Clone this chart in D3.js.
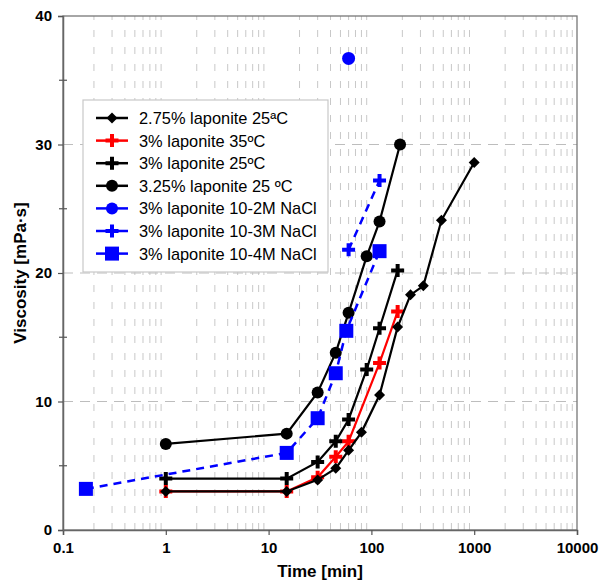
<!DOCTYPE html>
<meta charset="utf-8">
<html>
<head>
<script src="https://d3js.org/d3.v7.min.js"></script>
<style>
  body { margin: 0; background: #fff; }
  text { font-family: "Liberation Sans", Arial, sans-serif; }
</style>
</head>
<body>
<div id="chart"></div>
<script>
// data (time in minutes, viscosity in mPa·s)
var t275 = [1, 15, 30, 45, 60, 80, 120, 180, 240, 320, 480, 1000];
var v275 = [3.0, 3.0, 3.9, 4.8, 6.2, 7.6, 10.5, 15.8, 18.3, 19.0, 24.1, 28.6];

var t3_35 = [1, 15, 30, 45, 60, 120, 180];
var v3_35 = [3.0, 3.0, 4.1, 5.7, 6.9, 13.0, 17.0];

var t3_25 = [1, 15, 30, 45, 60, 90, 120, 180];
var v3_25 = [4.0, 4.0, 5.3, 6.9, 8.6, 12.5, 15.7, 20.2];

var t325 = [1, 15, 30, 45, 60, 90, 120, 190];
var v325 = [6.7, 7.5, 10.7, 13.8, 16.9, 21.3, 24.0, 30.0];

var tNa2 = [60];
var vNa2 = [36.7];

var tNa3 = [60, 120];
var vNa3 = [21.8, 27.2];

var tNa4 = [0.167, 15, 30, 45, 57, 120];
var vNa4 = [3.2, 6.0, 8.7, 12.2, 15.5, 21.7];

var xTicks = [0.1, 1, 10, 100, 1000, 10000];
var yTicks = [0, 10, 20, 30, 40];

var series = [
  {name: "3% laponite 35ºC", t: t3_35, v: v3_35, color: "#ff0000", sym: "plus", dash: null},
  {name: "3% laponite 25ºC", t: t3_25, v: v3_25, color: "#000000", sym: "plus", dash: null},
  {name: "2.75% laponite 25ªC", t: t275, v: v275, color: "#000000", sym: "diamond", dash: null},
  {name: "3.25% laponite 25 ºC", t: t325, v: v325, color: "#000000", sym: "circle", dash: null},
  {name: "3% laponite 10-2M NaCl", t: tNa2, v: vNa2, color: "#0000ff", sym: "circle", dash: "8,6"},
  {name: "3% laponite 10-3M NaCl", t: tNa3, v: vNa3, color: "#0000ff", sym: "plus", dash: "8,6"},
  {name: "3% laponite 10-4M NaCl", t: tNa4, v: vNa4, color: "#0000ff", sym: "square", dash: "8,6"}
];
var legendOrder = [2, 0, 1, 3, 4, 5, 6];

var W = 599, H = 585;
var margin = {top: 16, right: 22, bottom: 55, left: 63};
var width = W - margin.left - margin.right,
    height = H - margin.top - margin.bottom;

var svg = d3.select("#chart").append("svg")
    .attr("width", W).attr("height", H)
  .append("g")
    .attr("transform", "translate(" + margin.left + "," + margin.top + ")");

var x = d3.scaleLog().domain([0.1, 10000]).range([0, width]);
var y = d3.scaleLinear().domain([0, 40]).range([height, 0]);

// vertical minor grid (2..9 in each decade)
var minor = [];
for (var d = 0.1; d < 10000; d *= 10) {
  for (var k = 2; k <= 9; k++) minor.push(d * k);
}
svg.selectAll("line.vgrid").data(minor).enter().append("line")
  .attr("class", "vgrid")
  .attr("x1", function(d) { return x(d); }).attr("x2", function(d) { return x(d); })
  .attr("y1", height).attr("y2", 0)
  .attr("stroke", "#c8c8c8").attr("stroke-width", 1)
  .attr("stroke-dasharray", "7,10");

// horizontal grid at major y ticks
svg.selectAll("line.hgrid").data([10, 20, 30]).enter().append("line")
  .attr("class", "hgrid")
  .attr("x1", 0).attr("x2", width)
  .attr("y1", function(d) { return y(d); }).attr("y2", function(d) { return y(d); })
  .attr("stroke", "#bdbdbd").attr("stroke-width", 1.2)
  .attr("stroke-dasharray", "10,7");

// frame
svg.append("rect").attr("width", width).attr("height", height)
  .attr("fill", "none").attr("stroke", "#777").attr("stroke-width", 1.3);

// axes
var xAxis = svg.append("g").attr("transform", "translate(0," + height + ")")
  .call(d3.axisBottom(x).tickValues(xTicks).tickSize(5).tickPadding(7)
    .tickFormat(function(d) { return String(d); }));
var yAxis = svg.append("g")
  .call(d3.axisLeft(y).tickValues(yTicks).tickSize(5).tickPadding(6));
[xAxis, yAxis].forEach(function(a) {
  a.select(".domain").attr("stroke", "#666").attr("stroke-width", 1.5);
  a.selectAll(".tick line").attr("stroke", "#555").attr("stroke-width", 1.2);
  a.selectAll("text").attr("font-size", 15).attr("font-weight", "bold")
    .attr("fill", "#000").style("font-family", "Liberation Sans, Arial, sans-serif");
});
// y minor ticks crossing the axis
svg.selectAll("line.ymin").data([5, 15, 25, 35]).enter().append("line")
  .attr("x1", -4).attr("x2", 4)
  .attr("y1", function(d) { return y(d); }).attr("y2", function(d) { return y(d); })
  .attr("stroke", "#555").attr("stroke-width", 1.2);

// axis titles
svg.append("text").attr("x", width / 2).attr("y", height + 47)
  .attr("text-anchor", "middle").attr("font-size", 17).attr("font-weight", "bold")
  .text("Time [min]");
svg.append("text").attr("transform", "translate(-37," + (height / 2) + ") rotate(-90)")
  .attr("text-anchor", "middle").attr("font-size", 17).attr("font-weight", "bold")
  .text("Viscosity [mPa·s]");

function drawMarker(g, sym, color, cx, cy, big) {
  if (sym === "circle") {
    g.append("circle").attr("cx", cx).attr("cy", cy).attr("r", big ? 6.5 : 6).attr("fill", color);
  } else if (sym === "square") {
    g.append("rect").attr("x", cx - 7).attr("y", cy - 7).attr("width", 14).attr("height", 14).attr("fill", color);
  } else if (sym === "diamond") {
    g.append("path").attr("d", "M" + cx + "," + (cy - 5.5) + "L" + (cx + 5.5) + "," + cy +
        "L" + cx + "," + (cy + 5.5) + "L" + (cx - 5.5) + "," + cy + "Z").attr("fill", color);
  } else if (sym === "plus") {
    g.append("path").attr("d", "M" + (cx - 6.5) + "," + cy + "H" + (cx + 6.5) + "M" + cx + "," + (cy - 6.5) + "V" + (cy + 6.5))
      .attr("stroke", color).attr("stroke-width", 4).attr("fill", "none");
  }
}

var line = d3.line().x(function(d) { return x(d[0]); }).y(function(d) { return y(d[1]); });

series.forEach(function(s) {
  var pts = s.t.map(function(t, i) { return [t, s.v[i]]; });
  var g = svg.append("g");
  if (pts.length > 1) {
    g.append("path").datum(pts).attr("d", line)
      .attr("fill", "none").attr("stroke", s.color)
      .attr("stroke-width", s.dash ? 2.5 : 2.2)
      .attr("stroke-dasharray", s.dash);
  }
  pts.forEach(function(p) { drawMarker(g, s.sym, s.color, x(p[0]), y(p[1]), pts.length === 1); });
});

// legend
var lg = svg.append("g").attr("transform", "translate(20,84)");
lg.append("rect").attr("width", 245).attr("height", 172)
  .attr("fill", "#fff").attr("stroke", "#c8c8c8").attr("stroke-width", 1.2);
legendOrder.forEach(function(si, i) {
  var s = series[si];
  var yy = 18 + i * 22.6;
  lg.append("line").attr("x1", 13).attr("x2", 45).attr("y1", yy).attr("y2", yy)
    .attr("stroke", s.color).attr("stroke-width", 2.5);
  drawMarker(lg, s.sym, s.color, 29, yy, false);
  lg.append("text").attr("x", 56).attr("y", yy).attr("dy", "0.36em")
    .attr("font-size", 16.4).attr("fill", "#000").text(s.name);
});
</script>
</body>
</html>
